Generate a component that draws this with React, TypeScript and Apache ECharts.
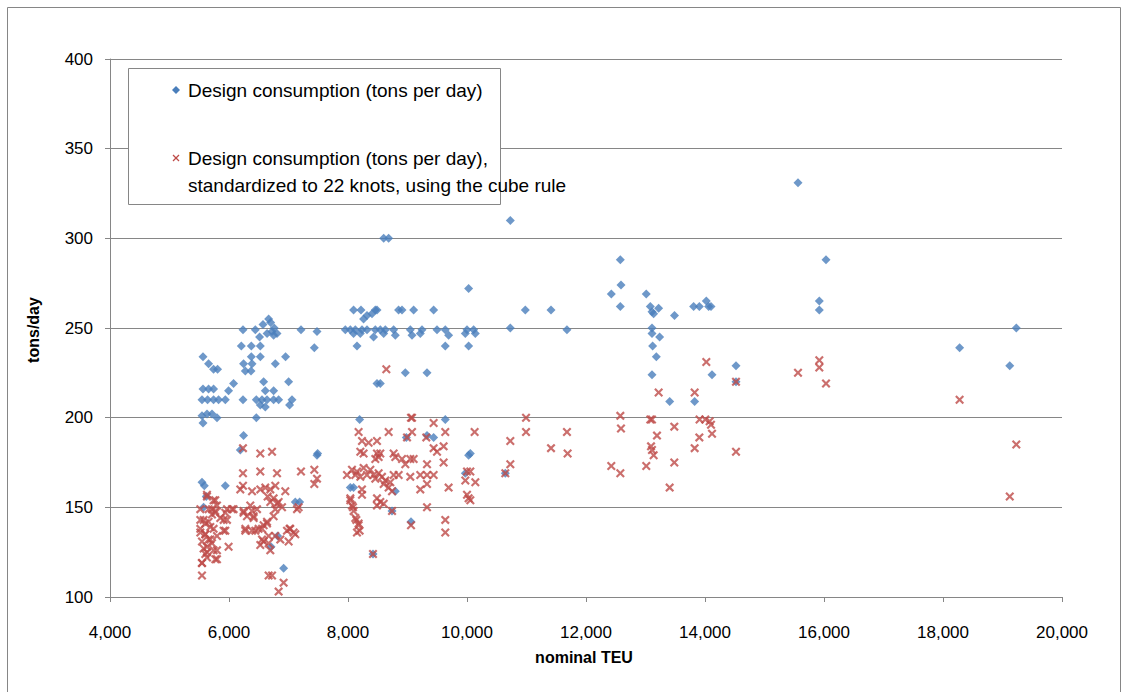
import React, { useEffect, useRef } from "react";
import * as echarts from "echarts";

// Design consumption (tons per day): [nominal TEU, tons/day]
const designSmall: [number, number][] = [
  [6666, 255], [6571, 252], [6235, 249], [6442, 249], [6723, 248], [6807, 247], [6750, 246], [6514, 245],
  [7210, 249], [7479, 248], [7434, 239], [6207, 240], [6375, 240], [6526, 240], [5563, 234], [6375, 234],
  [6526, 234], [6951, 234], [5657, 230], [5741, 227], [5808, 227], [6245, 230], [6387, 230], [6778, 230],
  [6274, 226], [6370, 226], [6077, 219], [6582, 220], [7002, 220], [5563, 216], [5657, 216], [5741, 216],
  [5993, 215], [6610, 215], [6750, 215], [5546, 210], [5640, 210], [5741, 210], [5825, 210], [5938, 210],
  [6235, 210], [6459, 210], [6555, 210], [6639, 210], [6750, 210], [6834, 210], [6526, 207], [6610, 206],
  [7059, 210], [7018, 207], [5546, 201], [5630, 202], [5714, 202], [5798, 200], [5563, 197], [6459, 200],
  [6245, 190], [6190, 182], [7479, 179], [5546, 164], [5585, 162], [5938, 162], [5618, 156], [7114, 153],
  [7187, 153], [5573, 150], [6817, 134], [6706, 128], [6918, 116], [6700, 253], [6760, 250], [6640, 247],
];
const designMid: [number, number][] = [
  [8600, 300], [8683, 300], [10027, 272], [8094, 260], [8218, 260], [8459, 260], [8487, 260], [8850, 260],
  [8908, 260], [9103, 260], [9439, 260], [8262, 255], [8319, 257], [8403, 258], [7955, 249], [8039, 249],
  [8123, 249], [8235, 249], [8319, 249], [8459, 249], [8543, 249], [8627, 249], [8767, 249], [9047, 249],
  [9244, 249], [9496, 249], [9635, 249], [10000, 249], [10111, 249], [10728, 250], [8094, 247], [8207, 247],
  [8430, 245], [8600, 247], [8795, 246], [9076, 246], [9215, 247], [9691, 246], [9972, 247], [10140, 247],
  [8151, 240], [9635, 240], [10027, 240], [8963, 225], [9328, 225], [8487, 219], [8543, 219], [8195, 199],
  [9635, 199], [8980, 189], [9328, 190], [9439, 189], [10027, 179], [10056, 180], [9972, 169], [10644, 169],
  [8039, 161], [8094, 161], [8795, 159], [8740, 148], [9059, 142], [8420, 124], [7490, 180],
];
const designLarge: [number, number][] = [
  [10728, 310], [12577, 288], [12588, 274], [12425, 269], [13013, 269], [10980, 260], [11412, 260],
  [12577, 262], [13081, 262], [13221, 261], [13109, 259], [13137, 258], [13487, 257], [13809, 262],
  [13905, 262], [14022, 265], [14061, 262], [14101, 262], [11680, 249], [13109, 250], [13109, 247],
  [13237, 245], [13120, 240], [13182, 234], [13109, 224], [14118, 224], [13407, 209], [13826, 209],
  [15563, 331], [16034, 288], [15921, 265], [15921, 260], [19232, 250], [18279, 239], [19122, 229],
  [14521, 229], [14521, 220],
];

// Design consumption standardized to 22 knots (cube rule): [nominal TEU, tons/day]
const stdSmall: [number, number][] = [
  [6235, 183], [6526, 180], [6723, 181], [6235, 169], [6526, 170], [6807, 169], [7210, 170], [7434, 171],
  [7479, 166], [7434, 163], [6235, 162], [6190, 160], [6387, 159], [6526, 160], [6610, 161], [6694, 160],
  [6778, 162], [6946, 159], [6649, 156], [6750, 155], [6834, 153], [6778, 149], [6750, 145], [5630, 156],
  [5741, 154], [5798, 151], [5518, 149], [5657, 149], [5714, 146], [5770, 148], [5854, 144], [5966, 143],
  [6050, 149], [5938, 147], [5518, 143], [5602, 141], [5686, 139], [5741, 138], [5518, 136], [5602, 135],
  [5657, 132], [5714, 130], [5798, 126], [5573, 127], [5630, 125], [5938, 137], [5993, 128], [5546, 119],
  [5546, 112], [5798, 121], [6245, 148], [6302, 145], [6387, 148], [6471, 149], [6414, 144], [6274, 138],
  [6387, 137], [6497, 138], [6582, 140], [6639, 142], [6555, 132], [6666, 130], [6526, 129], [7030, 138],
  [7114, 135], [7002, 131], [6694, 126], [6666, 112], [6723, 112], [6918, 108], [6834, 103], [6694, 153],
  [6807, 152], [6891, 150], [6358, 151], [6245, 147], [6414, 145], [6639, 141], [6555, 138], [6442, 137],
  [6274, 137], [6666, 134], [6582, 131], [6778, 134], [6862, 132], [6975, 137], [7143, 149], [7170, 150],
  [7018, 138], [7086, 136], [5630, 157], [5770, 154], [5714, 149], [5573, 143], [5657, 142], [5770, 147],
  [5910, 143], [5966, 149], [6077, 149], [5518, 138], [5602, 135], [5686, 132], [5798, 134], [5910, 137],
  [5546, 131], [5630, 128], [5741, 126], [5602, 124], [5770, 121], [5546, 119], [5630, 122],
];
const stdMid: [number, number][] = [
  [8644, 227], [9059, 200], [9439, 197], [9076, 200], [8178, 192], [8683, 192], [9076, 192], [9635, 192],
  [10128, 192], [8235, 187], [8346, 186], [8487, 187], [8992, 189], [9316, 189], [9439, 183], [9607, 184],
  [9496, 181], [8207, 181], [8262, 180], [8487, 180], [8543, 180], [8459, 177], [8515, 178], [8767, 180],
  [8795, 178], [8908, 177], [9047, 177], [9103, 177], [8963, 174], [9607, 175], [9328, 174], [7983, 168],
  [8067, 171], [8151, 170], [8123, 168], [8207, 167], [8319, 168], [8262, 172], [8375, 171], [8430, 168],
  [8515, 169], [8571, 167], [8459, 166], [8627, 165], [8711, 164], [8767, 168], [8851, 168], [9047, 167],
  [9215, 168], [9328, 168], [9439, 168], [10000, 170], [10056, 170], [9972, 165], [10140, 164], [9691, 161],
  [9215, 160], [9328, 163], [8600, 163], [8683, 161], [8740, 159], [8235, 160], [8235, 157], [8039, 155],
  [8487, 155], [8543, 153], [8487, 151], [8600, 152], [10000, 157], [10056, 154], [10027, 155], [8067, 151],
  [8094, 148], [8123, 144], [8178, 141], [8151, 136], [8740, 148], [9328, 150], [9059, 140], [9635, 143],
  [9635, 136], [8420, 124], [8039, 154], [8084, 150], [8140, 143], [8178, 140], [8195, 137],
];
const stdLarge: [number, number][] = [
  [10992, 200], [12577, 201], [13081, 199], [13109, 199], [13909, 199], [14005, 199], [14078, 198],
  [10992, 192], [11680, 192], [12588, 194], [13484, 195], [14101, 196], [14118, 191], [10728, 187],
  [13193, 190], [13905, 189], [13826, 183], [11412, 183], [11691, 180], [13093, 184], [13109, 182],
  [13137, 179], [10728, 174], [10644, 169], [12425, 173], [12577, 169], [13013, 173], [13484, 175],
  [13406, 161], [14022, 231], [13221, 214], [13826, 214], [15563, 225], [15921, 232], [15921, 228],
  [16034, 219], [14521, 220], [18279, 210], [19232, 185], [19122, 156], [14521, 181],
];

const xMin = 4000;
const xMax = 20000;
const xStep = 2000;
const yMin = 100;
const yMax = 400;
const yStep = 50;

const seriesNames = [
  "Design consumption (tons per day)",
  "Design consumption (tons per day),",
  "standardized to 22 knots, using the cube rule",
];
const xTitle = "nominal TEU";
const yTitle = "tons/day";

const BLUE = "#4A7EBB";
const RED = "#BE4B48";
const GREY = "#868686";
const FONT = "'Liberation Sans', Arial, sans-serif";

const CROSS = "path://M0,1.7L1.7,0L5,3.3L8.3,0L10,1.7L6.7,5L10,8.3L8.3,10L5,6.7L1.7,10L0,8.3L3.3,5Z";

export default function App() {
  const ref = useRef<HTMLDivElement>(null);
  useEffect(() => {
    if (!ref.current) return;
    const chart = echarts.init(ref.current, undefined, { renderer: "svg" });
    const fmt = (v: number) => v.toLocaleString("en-US");
    chart.setOption({
      animation: false,
      backgroundColor: "#ffffff",
      textStyle: { fontFamily: FONT },
      grid: { left: 110, top: 59, width: 952, height: 538, containLabel: false },
      xAxis: {
        type: "value",
        min: xMin,
        max: xMax,
        interval: xStep,
        axisLine: { show: true, lineStyle: { color: GREY, width: 1 } },
        axisTick: { show: true, inside: false, length: 5, lineStyle: { color: GREY } },
        splitLine: { show: false },
        axisLabel: { formatter: fmt, color: "#000", fontSize: 17, margin: 27, fontFamily: FONT },
      },
      yAxis: {
        type: "value",
        min: yMin,
        max: yMax,
        interval: yStep,
        axisLine: { show: true, lineStyle: { color: GREY, width: 1 } },
        axisTick: { show: true, inside: false, length: 5, lineStyle: { color: GREY } },
        splitLine: { show: true, lineStyle: { color: GREY, width: 1 } },
        axisLabel: { color: "#000", fontSize: 17, margin: 17, fontFamily: FONT },
      },
      series: [
        {
          name: seriesNames[0],
          type: "scatter",
          symbol: "diamond",
          symbolSize: 9,
          itemStyle: { color: BLUE },
          data: [...designSmall, ...designMid, ...designLarge],
        },
        {
          name: seriesNames[1],
          type: "scatter",
          symbol: CROSS,
          symbolSize: 9,
          itemStyle: { color: RED },
          data: [...stdSmall, ...stdMid, ...stdLarge],
        },
      ],
      graphic: [
        {
          type: "rect",
          shape: { x: 7.5, y: 7.5, width: 1113, height: 700 },
          style: { fill: "none", stroke: GREY, lineWidth: 1 },
          silent: true,
          z: -10,
        },
        {
          type: "rect",
          shape: { x: 128.5, y: 68.5, width: 372, height: 136 },
          style: { fill: "#ffffff", stroke: GREY, lineWidth: 1 },
          z: 100,
        },
        {
          type: "polygon",
          shape: { points: [[176, 86], [180, 90], [176, 94], [172, 90]] },
          style: { fill: BLUE },
          z: 101,
        },
        {
          type: "text",
          x: 188,
          y: 90,
          style: { text: seriesNames[0], font: `19px ${FONT}`, fill: "#000", textVerticalAlign: "middle" },
          z: 101,
        },
        {
          type: "line",
          shape: { x1: 173, y1: 155, x2: 179, y2: 161 },
          style: { stroke: RED, lineWidth: 1.3 },
          z: 101,
        },
        {
          type: "line",
          shape: { x1: 179, y1: 155, x2: 173, y2: 161 },
          style: { stroke: RED, lineWidth: 1.3 },
          z: 101,
        },
        {
          type: "text",
          x: 188,
          y: 158,
          style: { text: seriesNames[1], font: `19px ${FONT}`, fill: "#000", textVerticalAlign: "middle" },
          z: 101,
        },
        {
          type: "text",
          x: 188,
          y: 185,
          style: { text: seriesNames[2], font: `19px ${FONT}`, fill: "#000", textVerticalAlign: "middle" },
          z: 101,
        },
        {
          type: "text",
          x: 584,
          y: 657,
          style: {
            text: xTitle,
            font: `bold 16px ${FONT}`,
            fill: "#000",
            textAlign: "center",
            textVerticalAlign: "middle",
          },
        },
        {
          type: "text",
          x: 33,
          y: 330,
          rotation: Math.PI / 2,
          style: {
            text: yTitle,
            font: `bold 16px ${FONT}`,
            fill: "#000",
            textAlign: "center",
            textVerticalAlign: "middle",
          },
        },
      ],
    });
    return () => chart.dispose();
  }, []);
  return (
    <div
      ref={ref}
      style={{ position: "absolute", left: 0, top: 0, width: 1127, height: 692, background: "#fff" }}
    />
  );
}
